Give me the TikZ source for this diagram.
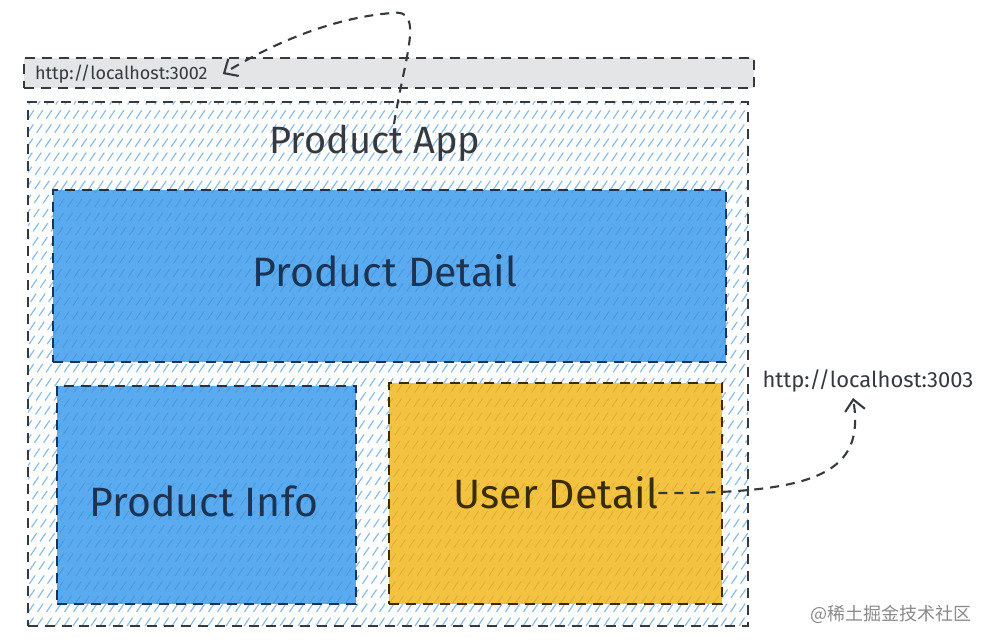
\documentclass[tikz,border=0pt]{standalone}
\usepackage{fontspec}
\setmainfont{Fira Sans}
\newfontfamily\cjk{Noto Sans CJK SC}
\usetikzlibrary{arrows.meta}
\definecolor{inkc}{HTML}{343A40}
\definecolor{barfill}{HTML}{E4E5E7}
\definecolor{hatchblue}{HTML}{8CBDE6}
\definecolor{boxblue}{HTML}{5AAAF0}
\definecolor{boxblueline}{HTML}{4A97DC}
\definecolor{boxyellow}{HTML}{F2C240}
\definecolor{boxyellowline}{HTML}{DDAE33}
\definecolor{navytext}{HTML}{1B3454}
\definecolor{browntext}{HTML}{3A2C05}
\definecolor{marktext}{HTML}{8A8A8A}
\tikzset{
  hatched/.style 2 args={path picture={
    \foreach \i in {-441,-432,...,760}{
      \draw[#1,line width=#2] ([xshift=\i pt]path picture bounding box.south west) -- ++(56:900pt);
    }}},
  sketchbox/.style={draw=inkc, line width=2.6pt, dash pattern=on 10pt off 7pt, inner sep=0pt, outer sep=0pt},
  linkline/.style={draw=inkc, line width=2.1pt, dash pattern=on 9pt off 7pt},
  label/.style={font=\fontsize{41}{41}\selectfont, inner sep=0pt},
  urltext/.style={text=inkc, inner sep=0pt},
  opentip/.style={-{Straight Barb[length=11pt,width=20pt,line width=2.1pt]}},
}
\begin{document}
\begin{tikzpicture}[x=1pt,y=-1pt]
\useasboundingbox (0,0) rectangle (992,644);
\fill[white] (0,0) rectangle (992,644);
% URL bar
\node[sketchbox, fill=barfill, minimum width=730pt, minimum height=30pt] (bar) at (389,73) {};
\node[urltext, anchor=west, font=\fontsize{18}{18}\selectfont] (url1) at (35,74) {http://localhost:3002};
% outer app frame
\node[sketchbox, fill=white, hatched={hatchblue}{1.2pt}, minimum width=720pt, minimum height=524pt] (app) at (388,364) {};
\node[label, text=inkc, font=\fontsize{38}{38}\selectfont] (apptitle) at (375,143) {Product App};
% inner boxes
\node[sketchbox, draw=navytext, fill=boxblue, hatched={boxblueline}{0.8pt}, minimum width=673pt, minimum height=172pt] (pdbox) at (389.5,276) {};
\node[label, text=navytext] (pdtext) at (385,271) {Product Detail};
\node[sketchbox, draw=navytext, fill=boxblue, hatched={boxblueline}{0.8pt}, minimum width=299pt, minimum height=218pt] (pibox) at (206.5,495) {};
\node[label, text=navytext] (pitext) at (204,501) {Product Info};
\node[sketchbox, draw=browntext, fill=boxyellow, hatched={boxyellowline}{0.8pt}, minimum width=333pt, minimum height=221pt] (udbox) at (555.5,493.5) {};
\node[label, text=browntext] (udtext) at (556,493) {User Detail};
% second url
\node[urltext, font=\fontsize{22}{22}\selectfont] (url2) at (868,381) {http://localhost:3003};
% connectors
\coordinate (apptop) at (394,124);
\coordinate (tip1) at ([xshift=15pt]url1.east);
\coordinate (tip2) at (853,398);
\draw[linkline, opentip]
  (apptop) .. controls (405,55) and (425,8) .. (392,13)
  .. controls (330,18) and (270,45) .. (tip1);
\draw[linkline, opentip]
  (udtext.east) .. controls (820,494) and (865,472) .. (tip2);
% watermark
\node[text=marktext, font=\cjk\fontsize{18}{18}\selectfont, inner sep=0pt] (mark) at (891,614) {@稀土掘金技术社区};
\end{tikzpicture}
\end{document}
